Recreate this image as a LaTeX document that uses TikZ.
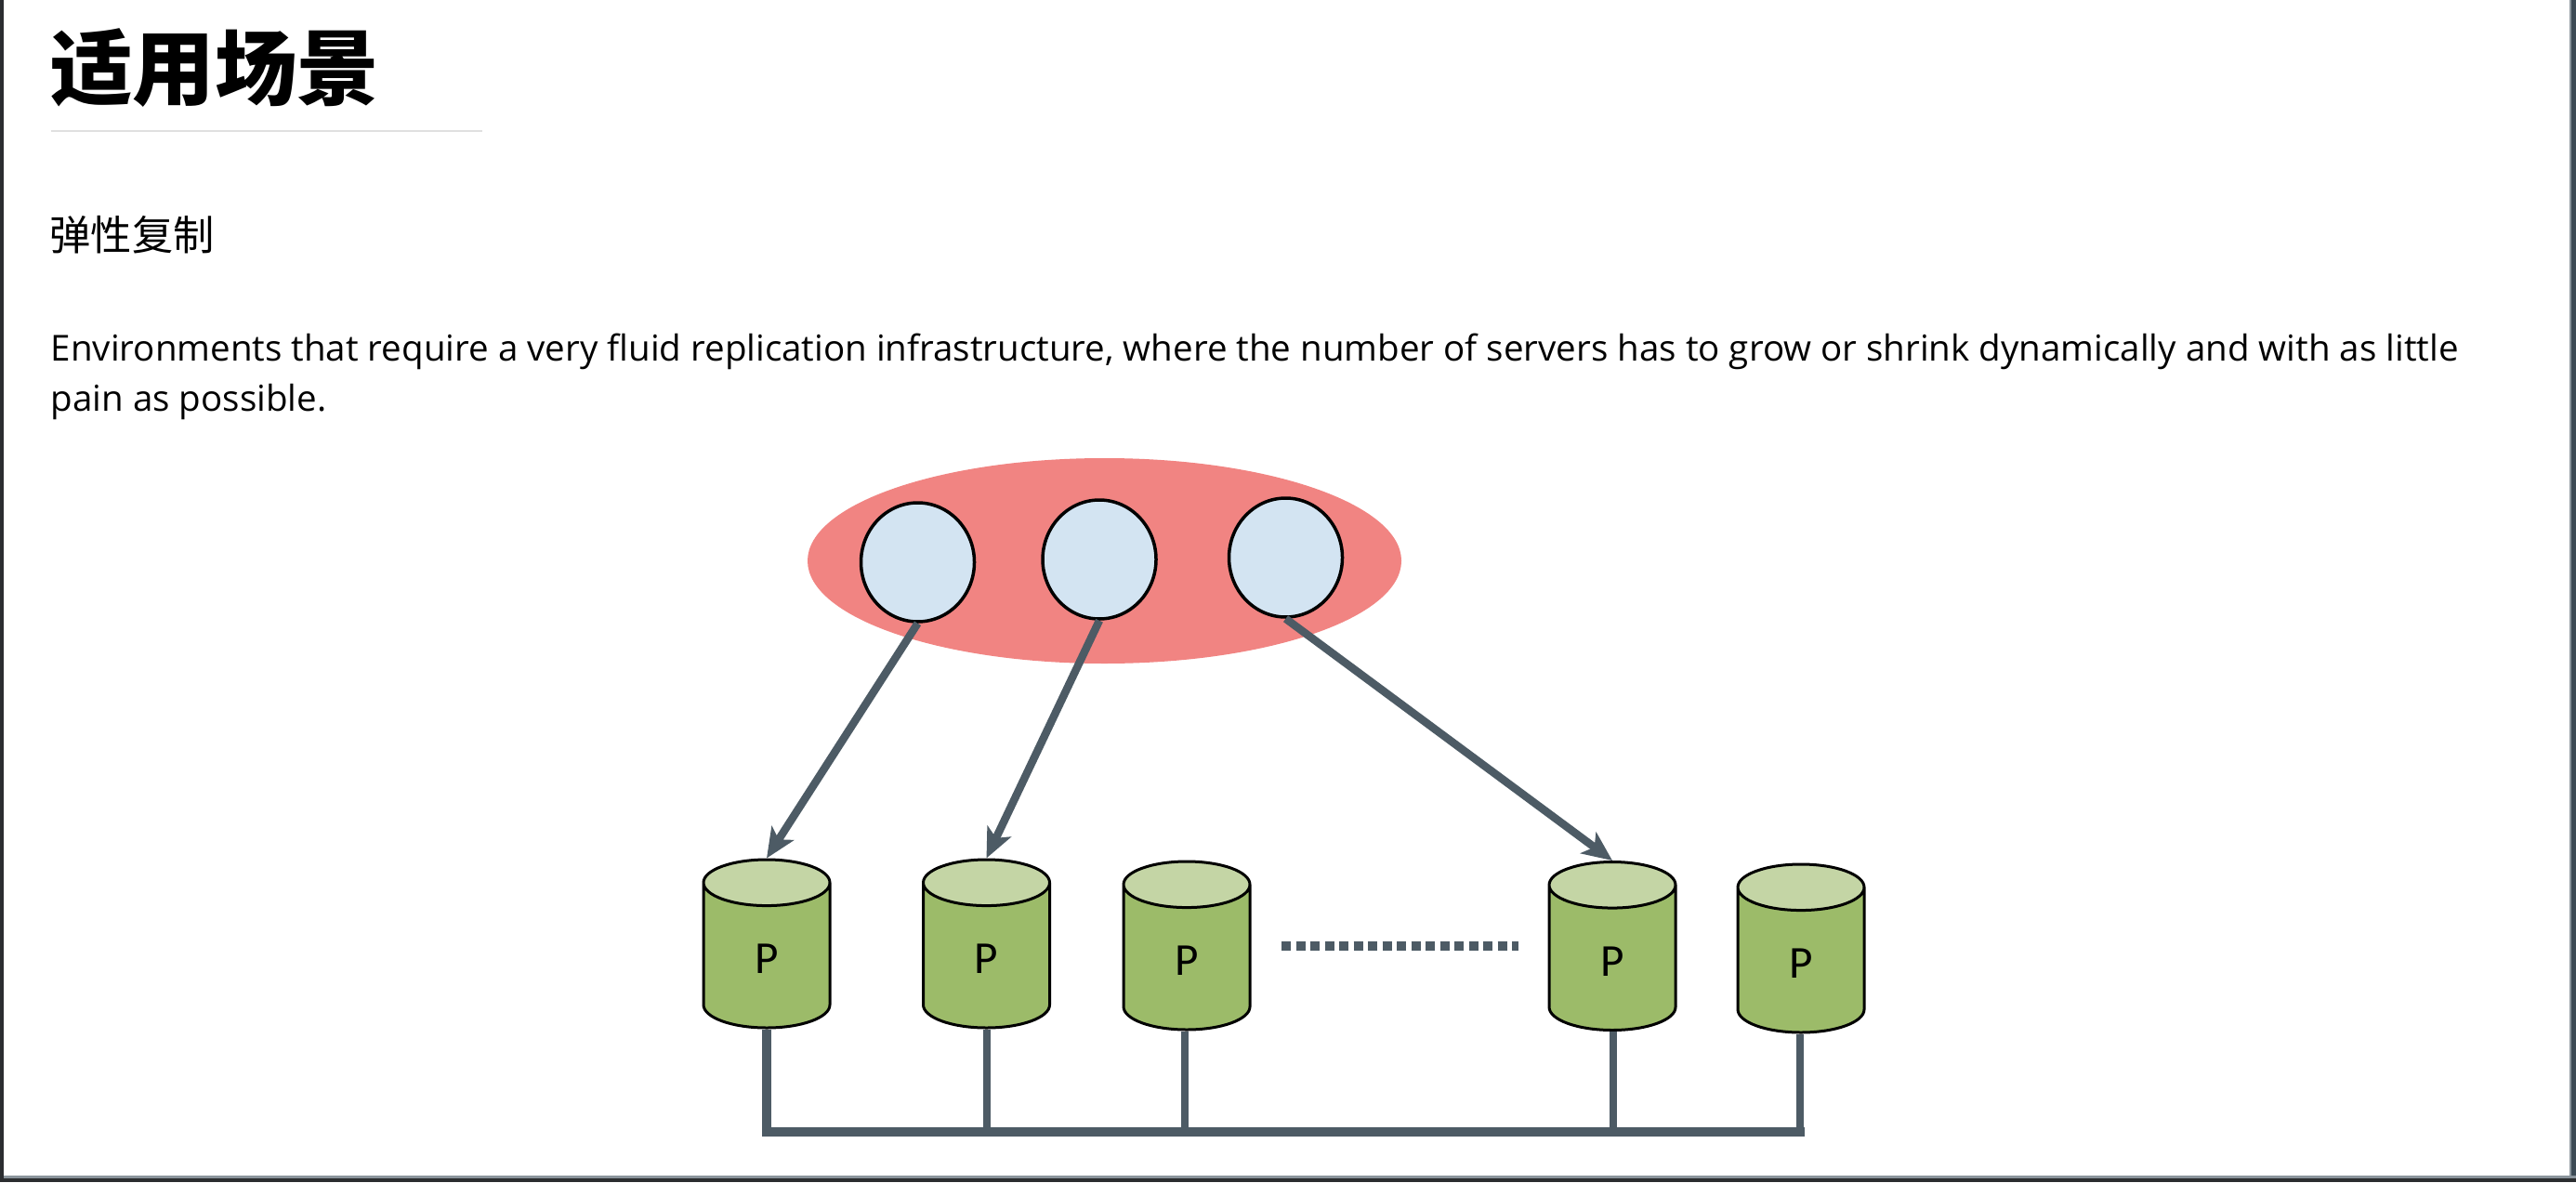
\documentclass[tikz,border=0pt]{standalone}
\usepackage{fontspec}
\setmainfont{Open Sans}
\newfontfamily\cjkfont{Noto Sans CJK SC}
\newfontfamily\labelfont{Carlito}
\usetikzlibrary{arrows.meta,shapes.geometric}
\definecolor{linkgray}{HTML}{4D5B65}
\definecolor{poolred}{HTML}{F18482}
\definecolor{serverblue}{HTML}{D3E4F2}
\definecolor{diskgreen}{HTML}{9CBB69}
\definecolor{disktop}{HTML}{C4D5A5}
\definecolor{framedark}{HTML}{2B2D30}
\definecolor{frameslate}{HTML}{3C4A55}
\definecolor{framegray}{HTML}{8A949C}
\tikzset{
  server/.style={ellipse,draw=black,line width=0.035cm,fill=serverblue,minimum width=1.22cm,minimum height=1.28cm,inner sep=0pt},
  disk/.style={cylinder,anchor=shape center,shape border rotate=90,shape aspect=1.95,draw=black,line width=0.03cm,cylinder uses custom fill,cylinder body fill=diskgreen,cylinder end fill=disktop,minimum width=1.36cm,minimum height=1.81cm,inner sep=0pt,text height=11pt,font=\labelfont\fontsize{14pt}{14pt}\selectfont},
  link/.style={draw=linkgray,line width=0.085cm,-{Stealth[length=0.32cm,width=0.28cm,inset=0.08cm]}},
  stem/.style={draw=linkgray,line width=0.08cm},
  bus/.style={draw=linkgray,line width=0.10cm,line cap=rect}
}
\begin{document}
\begin{tikzpicture}
    \useasboundingbox (0.000,0.000) rectangle (27.720,12.720);
    % Drawing window frame
    \fill [white] (0.000,0.000) rectangle (27.720,12.720);%
    \fill [framegray] (27.650,0.000) rectangle (27.720,12.720);%
    \fill [frameslate] (27.670,0.000) rectangle (27.720,12.720);%
    \fill [framegray] (0.000,0.000) rectangle (27.720,0.070);%
    \fill [framedark] (0.000,0.000) rectangle (27.720,0.040);%
    \fill [framedark] (0.000,0.000) rectangle (0.040,12.720);%

    % Marking heading and text
    \node (heading) [anchor=west,inner sep=0pt,font=\cjkfont\bfseries\fontsize{25.2pt}{25.2pt}\selectfont] at (0.535,11.990) {适用场景};%
    \draw [line width=0.022cm,black!12] (0.545,11.310) -- (5.190,11.310);%
    \node (subheading) [anchor=west,inner sep=0pt,font=\cjkfont\fontsize{12.6pt}{12.6pt}\selectfont] at (0.530,10.190) {弹性复制};%
    \node (lineone) [anchor=base west,inner sep=0pt,font=\fontsize{10.96pt}{10.96pt}\selectfont] at (0.540,8.840) {Environments that require a very fluid replication infrastructure, where the number of servers has to grow or shrink dynamically and with as little};%
    \node (linetwo) [anchor=base west,inner sep=0pt,font=\fontsize{10.96pt}{10.96pt}\selectfont] at (0.540,8.300) {pain as possible.};%

    % Drawing pool with servers
    \node (pool) [ellipse,fill=poolred,minimum width=6.390cm,minimum height=2.210cm,inner sep=0pt] at (11.885,6.685) {};%
    \node (s1) [server] at (9.875,6.670) {};%
    \node (s2) [server] at (11.830,6.700) {};%
    \node (s3) [server] at (13.835,6.720) {};%

    % Drawing disks
    \node (p1) [disk] at (8.250,2.565) {P};%
    \node (p2) [disk] at (10.615,2.565) {P};%
    \node (p3) [disk] at (12.770,2.545) {P};%
    \node (p4) [disk] at (17.350,2.540) {P};%
    \node (p5) [disk] at (19.380,2.515) {P};%

    % Drawing dotted line
    \coordinate (dotsa) at (13.790,2.540);%
    \coordinate (dotsb) at (16.340,2.540);%
    \draw [draw=linkgray,line width=0.10cm,dash pattern=on 0.10cm off 0.055cm] (dotsa) -- (dotsb);%

    % Drawing arrows
    \draw [link] (s1.south) -- (p1.north);%
    \draw [link] (s2.south) -- (p2.north);%
    \draw [link] (s3.south) -- (p4.north);%

    % Drawing bus
    \coordinate (b1) at (8.250,0.540);%
    \coordinate (b2) at (10.615,0.540);%
    \coordinate (b3) at (12.745,0.540);%
    \coordinate (b4) at (17.360,0.540);%
    \coordinate (b5) at (19.365,0.540);%
    \draw [stem,line width=0.10cm] (p1.south) -- (b1);%
    \draw [stem] (p2.south) -- (b2);%
    \draw [stem] (b3 |- p3.south) -- (b3);%
    \draw [stem] (b4 |- p4.south) -- (b4);%
    \draw [stem] (b5 |- p5.south) -- (b5);%
    \draw [bus] (b1) -- (b5);%
\end{tikzpicture}
\end{document}
